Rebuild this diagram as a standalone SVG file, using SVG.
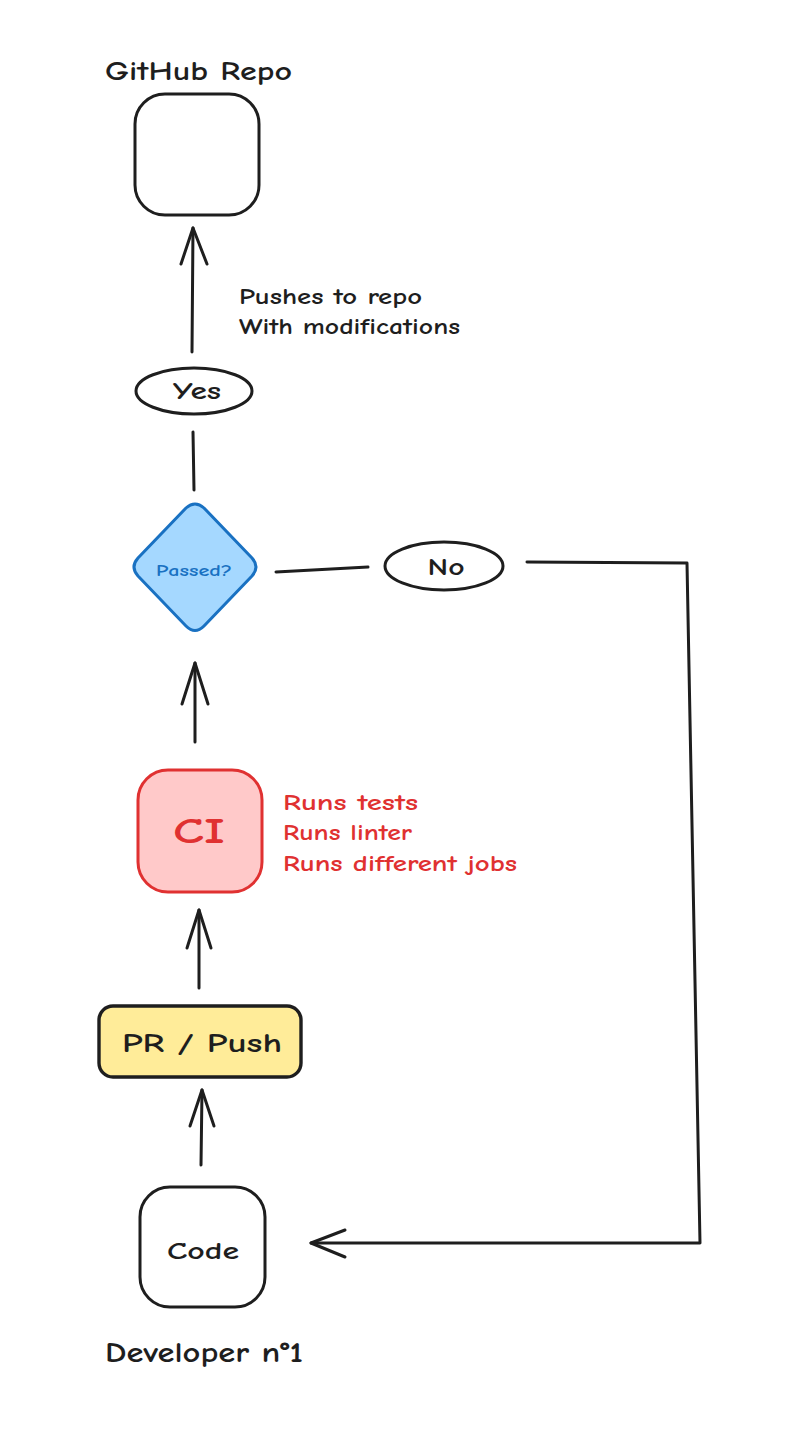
<svg xmlns="http://www.w3.org/2000/svg" width="806" height="1432" viewBox="0 0 806 1432">
<style>
.bg{fill:#ffffff}
.box{fill:#ffffff;stroke:#1e1e1e;stroke-width:3;stroke-linejoin:round}
.t{font-family:"Comic Neue","Liberation Sans","DejaVu Sans",sans-serif;fill:#1e1e1e;font-weight:bold}
.c{stroke:#1e1e1e;stroke-width:3;fill:none;stroke-linecap:round;stroke-linejoin:round}
.red{fill:#e03131}
.blue{fill:#1971c2}
</style>
<rect class="bg" x="0" y="0" width="806" height="1432"/>

<g id="node-github">
<rect class="box" x="135" y="94" width="124" height="121" rx="30"/>
<text class="t" x="105" y="80" font-size="27" textLength="187" lengthAdjust="spacingAndGlyphs">GitHub Repo</text>
</g>

<g id="label-push">
<text class="t" x="239" y="304" font-size="22" textLength="183" lengthAdjust="spacingAndGlyphs">Pushes to repo</text>
<text class="t" x="239" y="334" font-size="22" textLength="221" lengthAdjust="spacingAndGlyphs">With modifications</text>
</g>

<g id="node-yes">
<ellipse class="box" cx="194" cy="391" rx="58" ry="23" stroke-width="3.4"/>
<text class="t" x="197" y="399" font-size="25" text-anchor="middle" textLength="48" lengthAdjust="spacingAndGlyphs">Yes</text>
</g>

<g id="node-passed">
<path d="M186,508 Q195,500 204,508 L252,558 Q260,567 252,576 L204,626 Q195,635 186,626 L138,576 Q130,567 138,558 Z" fill="#a5d8ff" stroke="#1971c2" stroke-width="3" stroke-linejoin="round"/>
<text class="t blue" x="194" y="576" font-size="15" text-anchor="middle" textLength="76" lengthAdjust="spacingAndGlyphs">Passed?</text>
</g>

<g id="node-no">
<ellipse class="box" cx="444" cy="566" rx="59" ry="24" stroke-width="3.4"/>
<text class="t" x="446" y="575" font-size="25" text-anchor="middle" textLength="37" lengthAdjust="spacingAndGlyphs">No</text>
</g>

<g id="node-ci">
<rect x="138" y="770" width="124" height="122" rx="30" fill="#ffc9c9" stroke="#e03131" stroke-width="3"/>
<text class="t red" x="199" y="843" font-size="36" text-anchor="middle" textLength="52" lengthAdjust="spacingAndGlyphs">CI</text>
</g>

<g id="label-ci">
<text class="t red" x="283" y="810" font-size="22" textLength="135" lengthAdjust="spacingAndGlyphs">Runs tests</text>
<text class="t red" x="283" y="840" font-size="22" textLength="129" lengthAdjust="spacingAndGlyphs">Runs linter</text>
<text class="t red" x="283" y="871" font-size="22" textLength="234" lengthAdjust="spacingAndGlyphs">Runs different jobs</text>
</g>

<g id="node-pr">
<rect x="99" y="1006" width="202" height="71" rx="14" fill="#ffec99" stroke="#1e1e1e" stroke-width="3.4"/>
<text class="t" x="202" y="1052" font-size="27" text-anchor="middle" textLength="160" lengthAdjust="spacingAndGlyphs">PR / Push</text>
</g>

<g id="node-code">
<rect class="box" x="140" y="1187" width="125" height="120" rx="30"/>
<text class="t" x="203" y="1259" font-size="25" text-anchor="middle" textLength="72" lengthAdjust="spacingAndGlyphs">Code</text>
<text class="t" x="105" y="1362" font-size="28" textLength="198" lengthAdjust="spacingAndGlyphs">Developer n°1</text>
</g>

<g id="connectors">
<!-- Yes -> GitHub -->
<path class="c" d="M192,352 L193,228"/>
<path class="c" d="M181,264 L193,228 L207,264"/>
<!-- Passed -> Yes (line) -->
<path class="c" d="M193,432 L194,490"/>
<!-- Passed -> No (line) -->
<path class="c" d="M276,572 L368,567" stroke-width="3.4"/>
<!-- No -> Code -->
<path class="c" d="M527,562 L687,563 L700,1243 L311,1243" stroke-width="3.8"/>
<path class="c" d="M345,1230 L311,1243 L345,1257" stroke-width="3.4"/>
<!-- CI -> Passed -->
<path class="c" d="M195,742 L195,663"/>
<path class="c" d="M182,704 L195,663 L208,704"/>
<!-- PR -> CI -->
<path class="c" d="M199,988 L199,910"/>
<path class="c" d="M187,948 L199,910 L211,948"/>
<!-- Code -> PR -->
<path class="c" d="M201,1165 L202,1090"/>
<path class="c" d="M190,1126 L202,1090 L214,1126"/>
</g>
</svg>
